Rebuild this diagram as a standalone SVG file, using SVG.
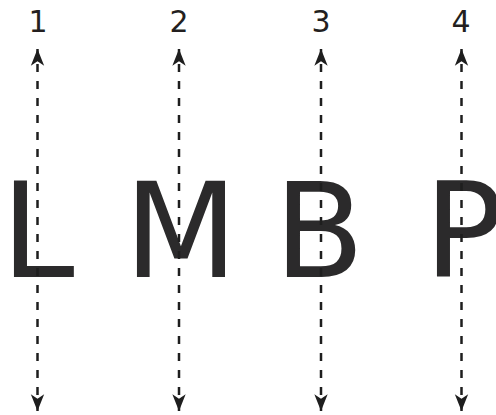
<svg xmlns="http://www.w3.org/2000/svg" width="496" height="415" viewBox="0 0 496 415">
<style>
.big{font-family:"DejaVu Sans",Verdana,sans-serif;font-size:132px;fill:#2b2a2b}
.num{font-family:"DejaVu Sans",Verdana,sans-serif;font-size:30px;fill:#231f20;text-anchor:middle}
.ax{stroke:#1e1e1e;stroke-width:2.5;stroke-dasharray:8 9;stroke-dashoffset:2;fill:none;marker-start:url(#ah);marker-end:url(#ah)}
</style>
<defs>
<marker id="ah" markerUnits="userSpaceOnUse" markerWidth="20" markerHeight="20" refX="0" refY="0" viewBox="-16 -8 18 16" orient="auto-start-reverse">
<path d="M0,0 L-15,-6 L-11,0 L-15,6 Z" fill="#1e1e1e"/>
</marker>
</defs>
<rect width="496" height="415" fill="#fff"/>
<g id="letters">
<text class="big" x="1" y="277">L</text>
<text class="big" x="124" y="277">M</text>
<text class="big" x="274" y="277">B</text>
<text class="big" x="424" y="277">P</text>
</g>
<g id="labels">
<text class="num" x="38" y="32">1</text>
<text class="num" x="179" y="32">2</text>
<text class="num" x="321" y="32">3</text>
<text class="num" x="461" y="32">4</text>
</g>
<g id="connectors">
<line class="ax" x1="37.5" y1="49" x2="37.5" y2="411"/>
<line class="ax" x1="179" y1="49" x2="179" y2="411"/>
<line class="ax" x1="321" y1="49" x2="321" y2="411"/>
<line class="ax" x1="461.5" y1="49" x2="461.5" y2="411"/>
</g>
</svg>
